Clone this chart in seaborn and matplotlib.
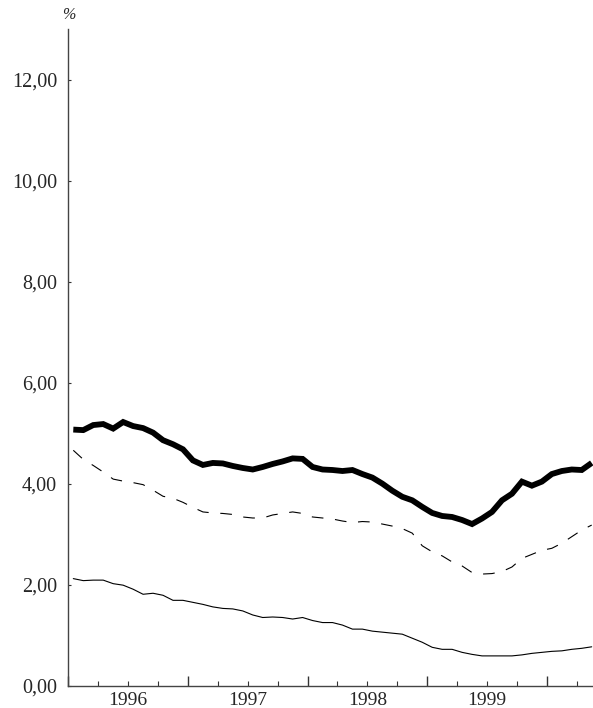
import numpy as np
import pandas as pd
import matplotlib
matplotlib.use("Agg")
import matplotlib.pyplot as plt
from matplotlib.ticker import FixedLocator, FixedFormatter, NullFormatter
import seaborn as sns

# ---- data (monthly, Jan 1996 - May 2000) ----
months = np.arange(53) + 0.5

series_thick = [5.07, 5.06, 5.16, 5.18, 5.09, 5.22, 5.14, 5.10, 5.01, 4.86, 4.78, 4.68, 4.46,
                4.37, 4.41, 4.40, 4.35, 4.31, 4.28, 4.33, 4.39, 4.44, 4.50, 4.49, 4.33, 4.28,
                4.27, 4.25, 4.27, 4.19, 4.12, 4.00, 3.86, 3.74, 3.67, 3.54, 3.42, 3.36, 3.34,
                3.28, 3.20, 3.31, 3.44, 3.67, 3.80, 4.04, 3.96, 4.04, 4.19, 4.25, 4.28, 4.27, 4.41]

series_dashed = [4.66, 4.48, 4.36, 4.23, 4.09, 4.05, 4.02, 3.98, 3.87, 3.75, 3.71, 3.63, 3.53,
                 3.44, 3.42, 3.41, 3.39, 3.34, 3.32, 3.32, 3.38, 3.41, 3.44, 3.41, 3.34, 3.32,
                 3.30, 3.26, 3.23, 3.25, 3.24, 3.20, 3.16, 3.11, 3.02, 2.77, 2.65, 2.57, 2.45,
                 2.37, 2.24, 2.21, 2.22, 2.26, 2.35, 2.52, 2.60, 2.68, 2.72, 2.82, 2.95, 3.08, 3.18]

series_thin = [2.12, 2.08, 2.09, 2.09, 2.02, 1.99, 1.91, 1.81, 1.83, 1.79, 1.69, 1.69, 1.65,
               1.61, 1.56, 1.53, 1.52, 1.48, 1.40, 1.35, 1.36, 1.35, 1.32, 1.35, 1.29, 1.25,
               1.25, 1.20, 1.12, 1.12, 1.08, 1.06, 1.04, 1.02, 0.94, 0.86, 0.76, 0.72, 0.72,
               0.66, 0.62, 0.59, 0.59, 0.59, 0.59, 0.61, 0.64, 0.66, 0.68, 0.69, 0.72, 0.74, 0.77]

year_labels = ["1996", "1997", "1998", "1999"]
y_ticks = [0, 2, 4, 6, 8, 10, 12]
y_tick_labels = ["0,00", "2,00", "4,00", "6,00", "8,00", "10,00", "12,00"]

df = pd.DataFrame({"month": months, "thick": series_thick,
                   "dashed": series_dashed, "thin": series_thin})

sns.set_style("ticks")
plt.rcParams["font.family"] = ["Liberation Serif", "DejaVu Serif"]

fig = plt.figure(figsize=(5.93, 7.08), dpi=100)
ax = fig.add_axes([0.1152, 0.0315, 0.8848, 0.9275])

sns.lineplot(data=df, x="month", y="thin", ax=ax, color="black", lw=0.8)
sns.lineplot(data=df, x="month", y="dashed", ax=ax, color="black", lw=0.8)
ax.lines[-1].set_dashes((10.5, 10.5))
sns.lineplot(data=df, x="month", y="thick", ax=ax, color="black", lw=4.2)
ax.lines[-1].set_solid_capstyle("butt")
ax.lines[-1].set_solid_joinstyle("miter")

ax.set_xlim(0, 52.63)
ax.set_ylim(0, 13)

ax.set_yticks(y_ticks)
ax.set_yticklabels(y_tick_labels)

ax.xaxis.set_major_locator(FixedLocator([0, 12, 24, 36, 48]))
ax.xaxis.set_major_formatter(NullFormatter())
minor_pos = [3, 6, 9, 15, 18, 21, 27, 30, 33, 39, 42, 45, 51]
minor_lab = []
for p in minor_pos:
    if p in (6, 18, 30, 42):
        minor_lab.append(year_labels[(p - 6) // 12])
    else:
        minor_lab.append("")
ax.xaxis.set_minor_locator(FixedLocator(minor_pos))
ax.xaxis.set_minor_formatter(FixedFormatter(minor_lab))

ax.tick_params(axis="x", which="major", direction="in", length=7.2, width=1.0,
               color="#333333", labelsize=14)
ax.tick_params(axis="x", which="minor", direction="in", length=3.6, width=0.8,
               color="#333333", labelsize=14, pad=4.5)
ax.tick_params(axis="y", which="major", direction="in", length=2.2, width=0.8,
               color="#333333", labelsize=14.5, pad=8)

for s in ["top", "right"]:
    ax.spines[s].set_visible(False)
for s in ["left", "bottom"]:
    ax.spines[s].set_color("#444444")
    ax.spines[s].set_linewidth(1.0)

ax.set_xlabel("")
ax.set_ylabel("")
ax.text(0.0, 1.021, "%", transform=ax.transAxes, ha="center", va="center",
        fontsize=11.5, fontstyle="italic")

fig.savefig("out.png", dpi=100)
